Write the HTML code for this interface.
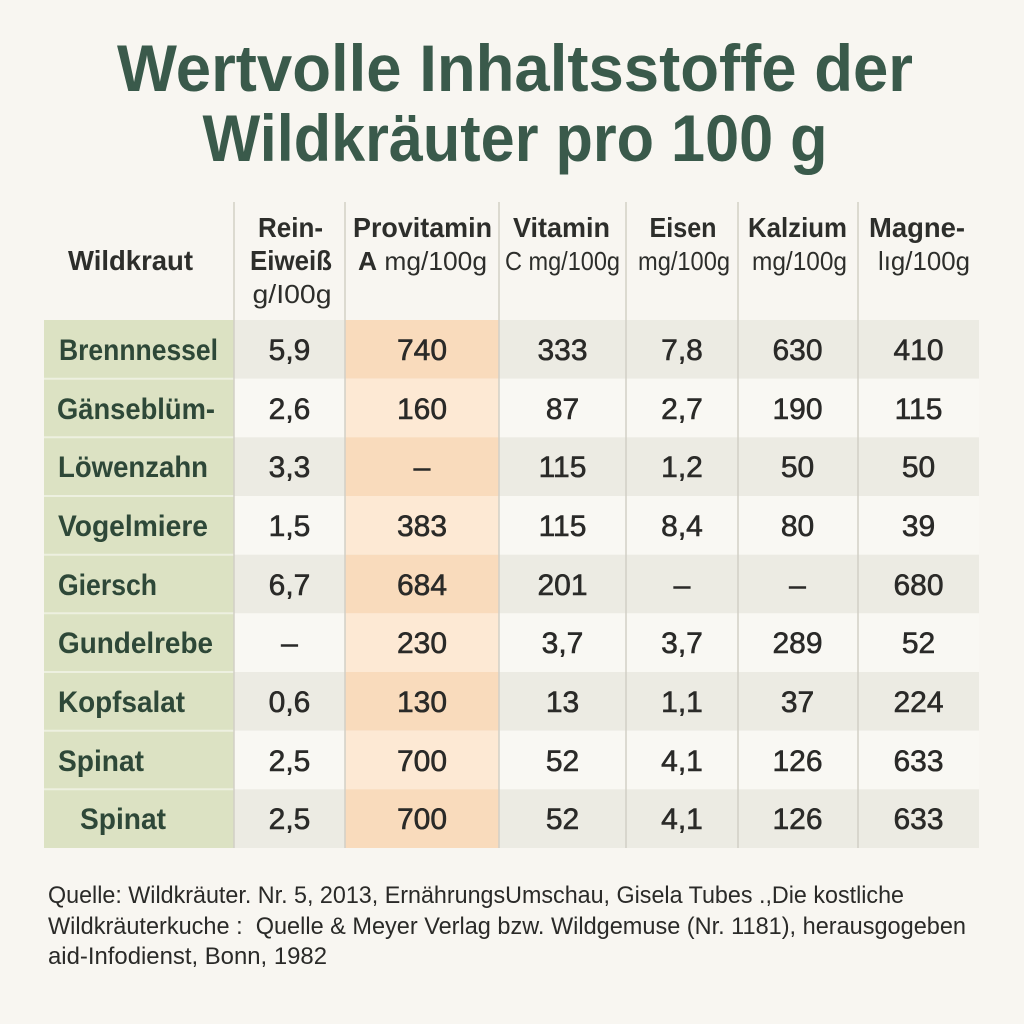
<!DOCTYPE html>
<html><head><meta charset="utf-8"><style>
html,body{margin:0;padding:0;background:#f8f6f1;}
svg{display:block;}
.t{font-family:"Liberation Sans",sans-serif;font-weight:bold;fill:#3a5a4b;}
.h{font-family:"Liberation Sans",sans-serif;font-weight:bold;font-size:28px;fill:#2d2e2b;}
.u{font-family:"Liberation Sans",sans-serif;font-size:26px;fill:#2d2e2b;}
.n{font-family:"Liberation Sans",sans-serif;font-weight:bold;font-size:30px;fill:#2e4838;}
.d{font-family:"Liberation Sans",sans-serif;font-size:30px;fill:#2a2a28;stroke:#2a2a28;stroke-width:0.6;}
.f{font-family:"Liberation Sans",sans-serif;font-size:24px;fill:#2a2a28;white-space:pre;}
</style></head><body>
<svg width="1024" height="1024" viewBox="0 0 1024 1024" xmlns="http://www.w3.org/2000/svg">
<rect width="1024" height="1024" fill="#f8f6f1"/>
<text class="t" x="515" y="91" font-size="66" text-anchor="middle" textLength="796" lengthAdjust="spacingAndGlyphs">Wertvolle Inhaltsstoffe der</text>
<text class="t" x="515" y="161" font-size="66" text-anchor="middle" textLength="625" lengthAdjust="spacingAndGlyphs">Wildkräuter pro 100 g</text>

<!-- row backgrounds -->
<g>
<rect x="234" y="320" width="745" height="58.7" fill="#ecebe3"/>
<rect x="234" y="378.7" width="745" height="58.7" fill="#f9f8f3"/>
<rect x="234" y="437.3" width="745" height="58.7" fill="#ecebe3"/>
<rect x="234" y="496" width="745" height="58.7" fill="#f9f8f3"/>
<rect x="234" y="554.7" width="745" height="58.7" fill="#ecebe3"/>
<rect x="234" y="613.3" width="745" height="58.7" fill="#f9f8f3"/>
<rect x="234" y="672" width="745" height="58.7" fill="#ecebe3"/>
<rect x="234" y="730.7" width="745" height="58.7" fill="#f9f8f3"/>
<rect x="234" y="789.3" width="745" height="58.7" fill="#ecebe3"/>
</g>
<g>
<rect x="345" y="320" width="154" height="58.7" fill="#f9dbbc"/>
<rect x="345" y="378.7" width="154" height="58.7" fill="#fde9d4"/>
<rect x="345" y="437.3" width="154" height="58.7" fill="#f9dbbc"/>
<rect x="345" y="496" width="154" height="58.7" fill="#fde9d4"/>
<rect x="345" y="554.7" width="154" height="58.7" fill="#f9dbbc"/>
<rect x="345" y="613.3" width="154" height="58.7" fill="#fde9d4"/>
<rect x="345" y="672" width="154" height="58.7" fill="#f9dbbc"/>
<rect x="345" y="730.7" width="154" height="58.7" fill="#fde9d4"/>
<rect x="345" y="789.3" width="154" height="58.7" fill="#f9dbbc"/>
</g>
<rect x="44" y="320" width="190" height="528" fill="#dce2c3"/>
<g stroke="#edf0e0" stroke-width="2">
<line x1="44" y1="378.7" x2="234" y2="378.7"/>
<line x1="44" y1="437.3" x2="234" y2="437.3"/>
<line x1="44" y1="496" x2="234" y2="496"/>
<line x1="44" y1="554.7" x2="234" y2="554.7"/>
<line x1="44" y1="613.3" x2="234" y2="613.3"/>
<line x1="44" y1="672" x2="234" y2="672"/>
<line x1="44" y1="730.7" x2="234" y2="730.7"/>
<line x1="44" y1="789.3" x2="234" y2="789.3"/>
</g>
<g stroke="#d2d0c6" stroke-width="1.5">
<line x1="234" y1="202" x2="234" y2="848"/>
<line x1="345" y1="202" x2="345" y2="848"/>
<line x1="499" y1="202" x2="499" y2="848"/>
<line x1="626" y1="202" x2="626" y2="848"/>
<line x1="738" y1="202" x2="738" y2="848"/>
<line x1="858" y1="202" x2="858" y2="848"/>
</g>

<!-- header -->
<text class="h" x="130.5" y="270" text-anchor="middle" textLength="125" lengthAdjust="spacingAndGlyphs">Wildkraut</text>
<text class="h" x="290.5" y="237" text-anchor="middle" textLength="65" lengthAdjust="spacingAndGlyphs">Rein-</text>
<text class="h" x="291" y="270" text-anchor="middle" textLength="82" lengthAdjust="spacingAndGlyphs">Eiweiß</text>
<text class="u" x="292" y="303" text-anchor="middle" textLength="79" lengthAdjust="spacingAndGlyphs">g/I00g</text>
<text class="h" x="422.5" y="237" text-anchor="middle" textLength="139" lengthAdjust="spacingAndGlyphs">Provitamin</text>
<text class="u" x="422.5" y="270" text-anchor="middle" textLength="129" lengthAdjust="spacingAndGlyphs"><tspan font-weight="bold">A</tspan> mg/100g</text>
<text class="h" x="561.5" y="237" text-anchor="middle" textLength="97" lengthAdjust="spacingAndGlyphs">Vitamin</text>
<text class="u" x="562.5" y="270" text-anchor="middle" textLength="115" lengthAdjust="spacingAndGlyphs">C mg/100g</text>
<text class="h" x="683" y="237" text-anchor="middle" textLength="67" lengthAdjust="spacingAndGlyphs">Eisen</text>
<text class="u" x="684" y="270" text-anchor="middle" textLength="92" lengthAdjust="spacingAndGlyphs">mg/100g</text>
<text class="h" x="797.5" y="237" text-anchor="middle" textLength="99" lengthAdjust="spacingAndGlyphs">Kalzium</text>
<text class="u" x="799.5" y="270" text-anchor="middle" textLength="95" lengthAdjust="spacingAndGlyphs">mg/100g</text>
<text class="h" x="917" y="237" text-anchor="middle" textLength="96" lengthAdjust="spacingAndGlyphs">Magne-</text>
<text class="u" x="924" y="270" text-anchor="middle" textLength="92" lengthAdjust="spacingAndGlyphs">lıg/100g</text>

<!-- names -->
<text class="n" x="59" y="360" textLength="159" lengthAdjust="spacingAndGlyphs">Brennnessel</text>
<text class="n" x="57" y="419" textLength="158" lengthAdjust="spacingAndGlyphs">Gänseblüm-</text>
<text class="n" x="58" y="477" textLength="150" lengthAdjust="spacingAndGlyphs">Löwenzahn</text>
<text class="n" x="58" y="536" textLength="150" lengthAdjust="spacingAndGlyphs">Vogelmiere</text>
<text class="n" x="58" y="595" textLength="99" lengthAdjust="spacingAndGlyphs">Giersch</text>
<text class="n" x="58" y="653" textLength="155" lengthAdjust="spacingAndGlyphs">Gundelrebe</text>
<text class="n" x="58" y="712" textLength="127" lengthAdjust="spacingAndGlyphs">Kopfsalat</text>
<text class="n" x="58" y="771" textLength="86" lengthAdjust="spacingAndGlyphs">Spinat</text>
<text class="n" x="80" y="829" textLength="86" lengthAdjust="spacingAndGlyphs">Spinat</text>

<!-- data -->
<g class="d" text-anchor="middle">
<text x="289.5" y="360">5,9</text><text x="422" y="360">740</text><text x="562.5" y="360">333</text><text x="682" y="360">7,8</text><text x="797.5" y="360">630</text><text x="918.5" y="360">410</text>
<text x="289.5" y="419">2,6</text><text x="422" y="419">160</text><text x="562.5" y="419">87</text><text x="682" y="419">2,7</text><text x="797.5" y="419">190</text><text x="918.5" y="419">115</text>
<text x="289.5" y="477">3,3</text><text x="422" y="477">–</text><text x="562.5" y="477">115</text><text x="682" y="477">1,2</text><text x="797.5" y="477">50</text><text x="918.5" y="477">50</text>
<text x="289.5" y="536">1,5</text><text x="422" y="536">383</text><text x="562.5" y="536">115</text><text x="682" y="536">8,4</text><text x="797.5" y="536">80</text><text x="918.5" y="536">39</text>
<text x="289.5" y="595">6,7</text><text x="422" y="595">684</text><text x="562.5" y="595">201</text><text x="682" y="595">–</text><text x="797.5" y="595">–</text><text x="918.5" y="595">680</text>
<text x="289.5" y="653">–</text><text x="422" y="653">230</text><text x="562.5" y="653">3,7</text><text x="682" y="653">3,7</text><text x="797.5" y="653">289</text><text x="918.5" y="653">52</text>
<text x="289.5" y="712">0,6</text><text x="422" y="712">130</text><text x="562.5" y="712">13</text><text x="682" y="712">1,1</text><text x="797.5" y="712">37</text><text x="918.5" y="712">224</text>
<text x="289.5" y="771">2,5</text><text x="422" y="771">700</text><text x="562.5" y="771">52</text><text x="682" y="771">4,1</text><text x="797.5" y="771">126</text><text x="918.5" y="771">633</text>
<text x="289.5" y="829">2,5</text><text x="422" y="829">700</text><text x="562.5" y="829">52</text><text x="682" y="829">4,1</text><text x="797.5" y="829">126</text><text x="918.5" y="829">633</text>
</g>

<!-- footer -->
<text class="f" x="48" y="903" textLength="856" lengthAdjust="spacingAndGlyphs">Quelle: Wildkräuter. Nr. 5, 2013, ErnährungsUmschau, Gisela Tubes .,Die kostliche</text>
<text class="f" x="48" y="934" textLength="918" lengthAdjust="spacingAndGlyphs">Wildkräuterkuche :  Quelle &amp; Meyer Verlag bzw. Wildgemuse (Nr. 1181), herausgogeben</text>
<text class="f" x="48" y="964" textLength="279" lengthAdjust="spacingAndGlyphs">aid-Infodienst, Bonn, 1982</text>
</svg>
</body></html>
